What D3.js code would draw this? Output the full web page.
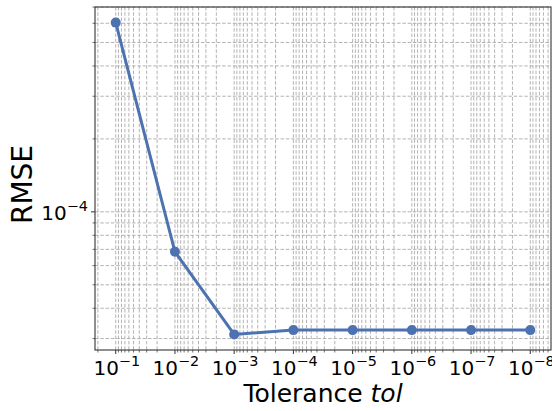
<!DOCTYPE html>
<html>
<head>
<meta charset="utf-8">
<script src="https://cdn.jsdelivr.net/npm/d3@7"></script>
<style>
  body { margin: 0; background: #fff; }
  text { font-family: "DejaVu Sans", sans-serif; fill: #000; }
</style>
</head>
<body>
<div id="chart"></div>
<script>
// data
const tolerances = [1e-1, 1e-2, 1e-3, 1e-4, 1e-5, 1e-6, 1e-7, 1e-8];
const rmseValues = [6.04e-4, 6.84e-5, 3.12e-5, 3.25e-5, 3.25e-5, 3.25e-5, 3.25e-5, 3.25e-5];
const xTickExps = [-1, -2, -3, -4, -5, -6, -7, -8];
const yTickExps = [-4];

const width = 552, height = 411;
const margin = { top: 7, right: 1, bottom: 61, left: 95 };
const innerW = width - margin.left - margin.right;
const innerH = height - margin.top - margin.bottom;

const svg = d3.select('#chart').append('svg')
    .attr('width', width)
    .attr('height', height);

const g = svg.append('g')
    .attr('transform', `translate(${margin.left},${margin.top})`);

// matplotlib style 5% margins, in log space
function logDomain(vals) {
    const lo = Math.log10(d3.min(vals)), hi = Math.log10(d3.max(vals));
    const pad = (hi - lo) * 0.05;
    return [Math.pow(10, lo - pad), Math.pow(10, hi + pad)];
}

const xd = logDomain(tolerances);
const x = d3.scaleLog().domain([xd[1], xd[0]]).range([0, innerW]);
const yd = logDomain(rmseValues);
const y = d3.scaleLog().domain(yd).range([innerH, 0]);

// minor / major tick values inside the domains
function logTicks(domain) {
    const lo = Math.min(domain[0], domain[1]), hi = Math.max(domain[0], domain[1]);
    const out = [];
    for (let e = Math.floor(Math.log10(lo)); e <= Math.ceil(Math.log10(hi)); e++) {
        for (let m = 1; m <= 9; m++) {
            const v = m * Math.pow(10, e);
            if (v >= lo && v <= hi) out.push({ v, major: m === 1 });
        }
    }
    return out;
}
const xTicks = logTicks(x.domain());
const yTicks = logTicks(y.domain());

// grid
const grid = g.append('g').attr('class', 'grid');
grid.selectAll('line.xg')
    .data(xTicks)
    .enter().append('line')
    .attr('x1', d => x(d.v)).attr('x2', d => x(d.v))
    .attr('y1', 0).attr('y2', innerH)
    .attr('stroke', '#aaa')
    .attr('stroke-width', 0.9)
    .attr('stroke-dasharray', '3.5,1.8');
grid.selectAll('line.yg')
    .data(yTicks)
    .enter().append('line')
    .attr('x1', 0).attr('x2', innerW)
    .attr('y1', d => y(d.v)).attr('y2', d => y(d.v))
    .attr('stroke', '#aaa')
    .attr('stroke-width', 0.9)
    .attr('stroke-dasharray', '3.5,1.8');

// ticks
g.selectAll('line.xt')
    .data(xTicks)
    .enter().append('line')
    .attr('x1', d => x(d.v)).attr('x2', d => x(d.v))
    .attr('y1', innerH).attr('y2', d => innerH + (d.major ? 4 : 2.5))
    .attr('stroke', '#333').attr('stroke-width', d => d.major ? 1 : 0.7);
g.selectAll('line.yt')
    .data(yTicks)
    .enter().append('line')
    .attr('x1', d => d.major ? -4 : -2.5).attr('x2', 0)
    .attr('y1', d => y(d.v)).attr('y2', d => y(d.v))
    .attr('stroke', '#333').attr('stroke-width', d => d.major ? 1 : 0.7);

// tick labels 10^n
function powLabel(sel) {
    sel.append('tspan').text('10');
    sel.append('tspan')
        .attr('dy', '-0.6em')
        .attr('font-size', '0.72em')
        .text(d => '\u2212' + Math.abs(d));
}
g.selectAll('text.xl')
    .data(xTickExps)
    .enter().append('text')
    .attr('x', d => x(Math.pow(10, d)) + 1)
    .attr('y', innerH + 25)
    .attr('text-anchor', 'middle')
    .attr('font-size', 20)
    .call(powLabel);
g.selectAll('text.yl')
    .data(yTickExps)
    .enter().append('text')
    .attr('x', -7)
    .attr('y', d => y(Math.pow(10, d)) + 8)
    .attr('text-anchor', 'end')
    .attr('font-size', 20)
    .call(powLabel);

// frame
g.append('rect')
    .attr('width', innerW).attr('height', innerH)
    .attr('fill', 'none')
    .attr('stroke', '#333')
    .attr('stroke-width', 1.1);

// series
const pts = tolerances.map((t, i) => ({ t, r: rmseValues[i] }));
g.append('path')
    .datum(pts)
    .attr('d', d3.line().x(d => x(d.t)).y(d => y(d.r)))
    .attr('fill', 'none')
    .attr('stroke', '#4c72b0')
    .attr('stroke-width', 3)
    .attr('stroke-linejoin', 'round');
g.selectAll('circle.pt')
    .data(pts)
    .enter().append('circle')
    .attr('cx', d => x(d.t)).attr('cy', d => y(d.r))
    .attr('r', 5)
    .attr('fill', '#4c72b0');

// axis titles
const xt = svg.append('text')
    .attr('x', margin.left + innerW / 2)
    .attr('y', 402)
    .attr('text-anchor', 'middle')
    .attr('font-size', 25);
xt.append('tspan').text('Tolerance ');
xt.append('tspan').attr('font-style', 'italic').text('tol');

svg.append('text')
    .attr('transform', `translate(32,${margin.top + innerH / 2 + 6}) rotate(-90)`)
    .attr('text-anchor', 'middle')
    .attr('font-size', 28)
    .text('RMSE');
</script>
</body>
</html>
